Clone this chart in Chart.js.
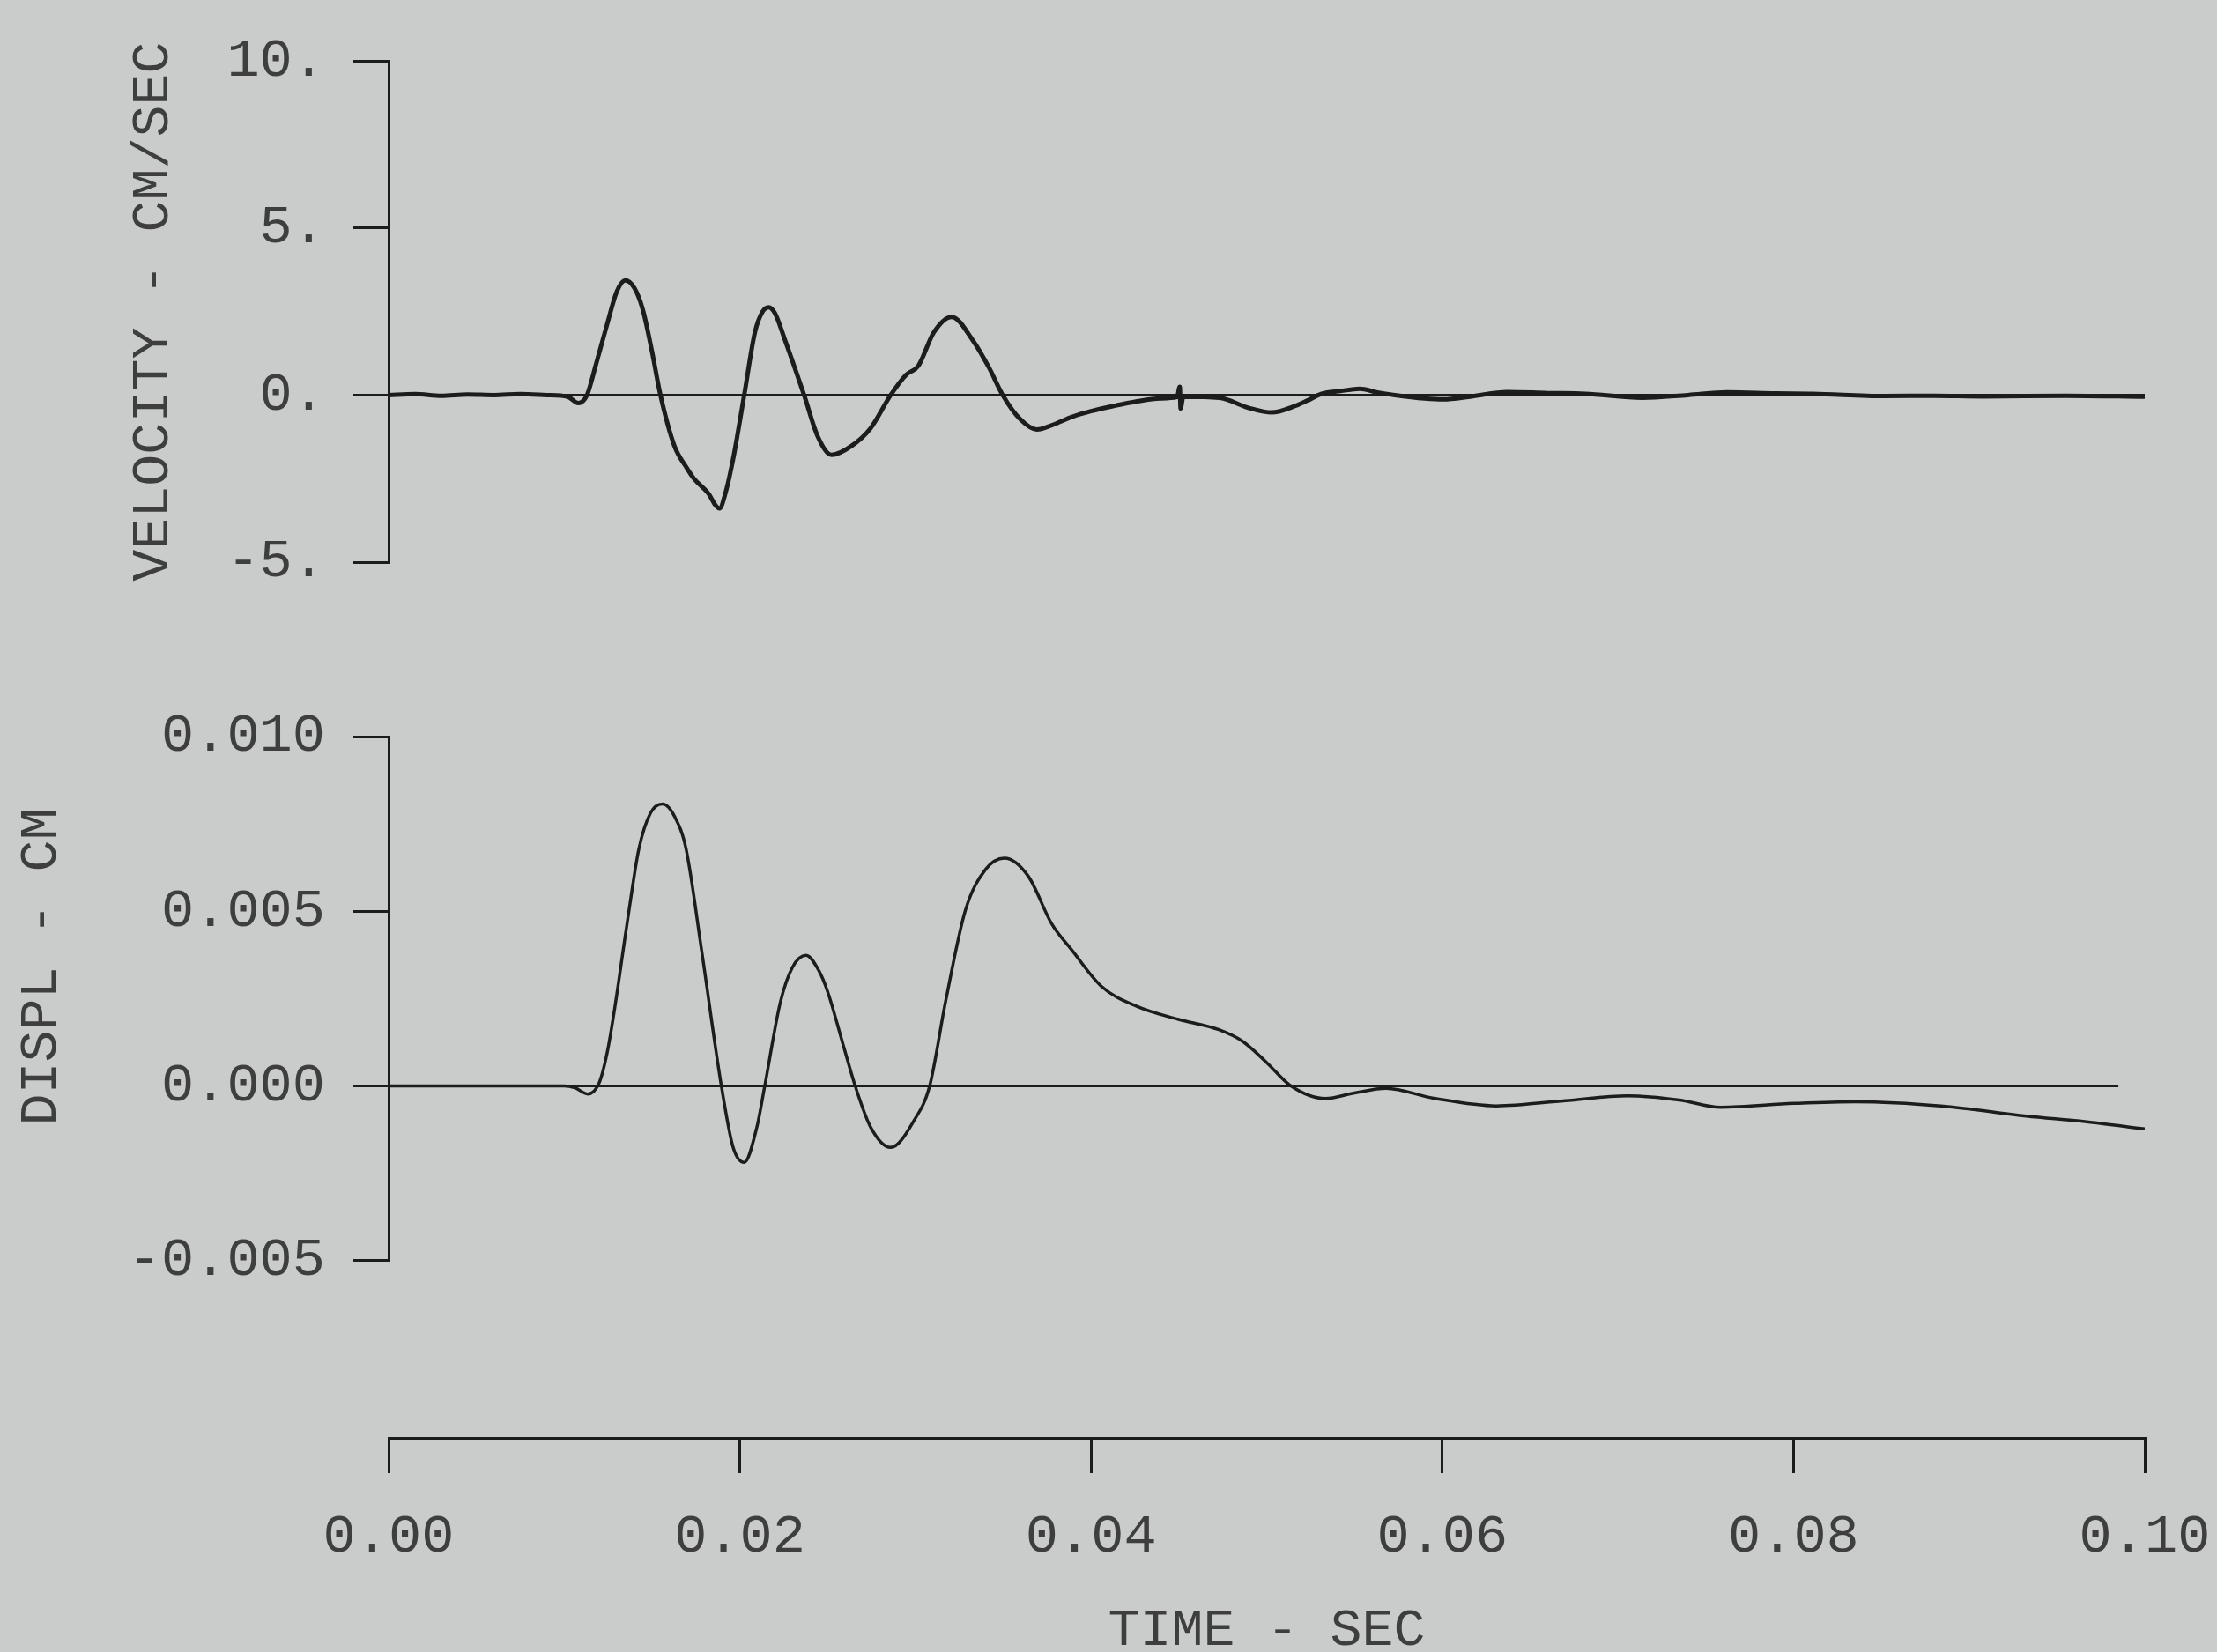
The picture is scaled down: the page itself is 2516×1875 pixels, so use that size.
<!DOCTYPE html>
<html>
<head>
<meta charset="utf-8">
<script src="https://cdn.jsdelivr.net/npm/chart.js@4.4.1/dist/chart.umd.min.js"></script>
<style>
  html, body { margin: 0; padding: 0; background: #cacccb; }
  body { width: 2516px; height: 1875px; position: relative; overflow: hidden; }
  canvas { position: absolute; left: 0; }
</style>
</head>
<body>
<canvas id="velChart" width="2516" height="720" style="top:0px"></canvas>
<canvas id="dispChart" width="2516" height="740" style="top:760px"></canvas>
<canvas id="timeChart" width="2516" height="315" style="top:1560px"></canvas>
<script>
// ===== data =====
const velTime = [0, 0.0015, 0.003, 0.0045, 0.006, 0.0075, 0.009, 0.0102, 0.0108, 0.0113, 0.0118, 0.01245, 0.013, 0.01347, 0.014, 0.01448, 0.0150, 0.01548, 0.01626, 0.0170, 0.01739, 0.01817, 0.01884, 0.0192, 0.01962, 0.02025, 0.02086, 0.0213, 0.02164, 0.022, 0.02253, 0.02366, 0.02444, 0.02523, 0.02634, 0.02745, 0.02859, 0.02948, 0.03016, 0.03105, 0.03206, 0.03329, 0.03418, 0.03497, 0.03598, 0.03691, 0.03777, 0.03892, 0.0400, 0.04143, 0.0425, 0.04394, 0.0449, 0.04505, 0.0451, 0.04525, 0.0473, 0.04896, 0.0503, 0.0515, 0.0523, 0.05314, 0.0542, 0.0553, 0.0563, 0.0573, 0.0590, 0.06004, 0.06167, 0.06367, 0.0660, 0.06814, 0.07138, 0.0740, 0.07624, 0.0790, 0.0811, 0.08515, 0.0880, 0.09082, 0.0955, 0.1000];
const velValues = [0, 0.03, -0.02, 0.02, 0.0, 0.03, 0.0, -0.05, -0.24, 0.0, 0.9, 2.13, 3.1, 3.43, 3.2, 2.55, 1.3, 0.0, -1.5, -2.2, -2.5, -2.92, -3.39, -2.9, -1.91, 0.0, 1.88, 2.5, 2.63, 2.45, 1.71, 0.0, -1.24, -1.79, -1.53, -0.99, 0.0, 0.61, 0.87, 1.88, 2.34, 1.62, 0.83, 0.0, -0.73, -1.03, -0.9, -0.65, -0.48, -0.31, -0.2, -0.1, -0.06, 0.25, -0.4, -0.05, -0.08, -0.38, -0.52, -0.35, -0.17, 0.04, 0.12, 0.19, 0.08, 0.0, -0.1, -0.13, -0.04, 0.09, 0.06, 0.04, -0.08, 0.0, 0.08, 0.05, 0.04, -0.03, -0.02, -0.04, -0.02, -0.05];

const dispTime = [0, 0.005, 0.0100, 0.0106, 0.01134, 0.0120, 0.01245, 0.0129, 0.01335, 0.0138, 0.01425, 0.0149, 0.0156, 0.0163, 0.01694, 0.01783, 0.01895, 0.01962, 0.02025, 0.02097, 0.02142, 0.02231, 0.0230, 0.02377, 0.0245, 0.0250, 0.0259, 0.02657, 0.02745, 0.02859, 0.02993, 0.03081, 0.03171, 0.03284, 0.0340, 0.03507, 0.03643, 0.03777, 0.03892, 0.04059, 0.0426, 0.04494, 0.04728, 0.04862, 0.04996, 0.05138, 0.05334, 0.0550, 0.0568, 0.0595, 0.06307, 0.0670, 0.07055, 0.0735, 0.07584, 0.0800, 0.08353, 0.0884, 0.09326, 0.0966, 0.1000];
const dispValues = [0, 0, 0, -0.00005, -0.00023, 0.0001, 0.00096, 0.0023, 0.00386, 0.0054, 0.00678, 0.0078, 0.00807, 0.0077, 0.00678, 0.00386, 0, -0.00176, -0.00219, -0.00118, 0, 0.0024, 0.0034, 0.00374, 0.0033, 0.0027, 0.00115, 0, -0.00118, -0.00176, -0.00098, 0, 0.0024, 0.00502, 0.0062, 0.00652, 0.006, 0.00463, 0.00388, 0.00285, 0.00228, 0.00191, 0.00161, 0.00128, 0.00069, 0, -0.00036, -0.0002, -0.00007, -0.00035, -0.00057, -0.00042, -0.00028, -0.0004, -0.00061, -0.0005, -0.00045, -0.00057, -0.00086, -0.00102, -0.00123];

// zero reference lines (start / end time)
const velBaseline = [0, 0.1];
const dispBaseline = [0, 0.0985];

// axis ticks and their printed labels
const velTicks = [-5, 0, 5, 10];
const velTickLabels = ["-5.", "0.", "5.", "10."];
const dispTicks = [-0.005, 0, 0.005, 0.010];
const dispTickLabels = ["-0.005", "0.000", "0.005", "0.010"];
const timeTicks = [0, 0.02, 0.04, 0.06, 0.08, 0.10];
const timeTickLabels = ["0.00", "0.02", "0.04", "0.06", "0.08", "0.10"];

// ===== common look =====
const INK = "#1c1c1c";
const TEXT = "#3e3e3e";
const FONT = "Liberation Mono";
const FSIZE = 62;
const TSIZE = 60;        // axis titles
const AXIS_LEFT = 441;   // px, y axis position
const PAD_RIGHT = 82;

const toPoints = (xs, ys) => xs.map((x, i) => ({x: x, y: ys[i]}));

function fixedTicks(values) {
  return scale => { scale.ticks = values.map(v => ({value: v})); };
}

function yAxis(min, max, ticks, labels, title, titlePad) {
  return {
    type: "linear", min: min, max: max,
    afterBuildTicks: fixedTicks(ticks),
    afterFit: s => { s.width = AXIS_LEFT; },
    border: {display: true, color: INK, width: 3},
    grid: {drawOnChartArea: false, drawTicks: true, tickLength: 40, tickColor: INK, lineWidth: 3},
    ticks: {
      color: TEXT, padding: 32,
      font: {family: FONT, size: FSIZE},
      callback: (v, i) => labels[i]
    },
    title: {
      display: true, text: title, color: TEXT,
      font: {family: FONT, size: TSIZE, lineHeight: 1.2},
      padding: {top: titlePad, bottom: 0}
    }
  };
}

const hiddenX = {type: "linear", min: 0, max: 0.1, display: false};

function baseOptions(padTop, padBottom) {
  return {
    responsive: false, animation: false, devicePixelRatio: 1,
    layout: {padding: {top: padTop, bottom: padBottom, left: 0, right: PAD_RIGHT}},
    plugins: {legend: {display: false}, tooltip: {enabled: false}},
    elements: {point: {radius: 0}}
  };
}

// ===== velocity panel =====
const velOpts = baseOptions(45, 82);
velOpts.scales = {x: hiddenX, y: yAxis(-5, 10, velTicks, velTickLabels, "VELOCITY - CM/SEC", 138)};
new Chart(document.getElementById("velChart"), {
  type: "line",
  data: {datasets: [
    {data: toPoints(velBaseline, [0, 0]), borderColor: INK, borderWidth: 3},
    {data: toPoints(velTime, velValues), borderColor: INK, borderWidth: 5, cubicInterpolationMode: "monotone"}
  ]},
  options: velOpts
});

// ===== displacement panel =====
const dispOpts = baseOptions(76, 68);
dispOpts.scales = {x: hiddenX, y: yAxis(-0.005, 0.010, dispTicks, dispTickLabels, "  DISPL - CM", 11)};
new Chart(document.getElementById("dispChart"), {
  type: "line",
  data: {datasets: [
    {data: toPoints(dispBaseline, [0, 0]), borderColor: INK, borderWidth: 3},
    {data: toPoints(dispTime, dispValues), borderColor: INK, borderWidth: 3.5, cubicInterpolationMode: "monotone"}
  ]},
  options: dispOpts
});

// ===== shared time axis =====
const timeOpts = baseOptions(20, 0);
timeOpts.layout.padding.left = AXIS_LEFT;
timeOpts.scales = {
  y: {display: false, min: 0, max: 1},
  x: {
    type: "linear", min: 0, max: 0.1,
    afterBuildTicks: fixedTicks(timeTicks),
    afterFit: s => { s.height = 243; s.paddingLeft = 0; s.paddingRight = 0; },
    border: {display: true, color: INK, width: 3},
    grid: {drawOnChartArea: false, drawTicks: true, tickLength: 40, tickColor: INK, lineWidth: 3},
    ticks: {
      color: TEXT, padding: 35, maxRotation: 0,
      font: {family: FONT, size: FSIZE},
      callback: (v, i) => timeTickLabels[i]
    },
    title: {
      display: true, text: "TIME - SEC", color: TEXT,
      font: {family: FONT, size: TSIZE, lineHeight: 0.8},
      padding: {top: 0, bottom: 0}
    }
  }
};
new Chart(document.getElementById("timeChart"), {
  type: "line",
  data: {datasets: [{data: []}]},
  options: timeOpts
});
</script>
</body>
</html>
